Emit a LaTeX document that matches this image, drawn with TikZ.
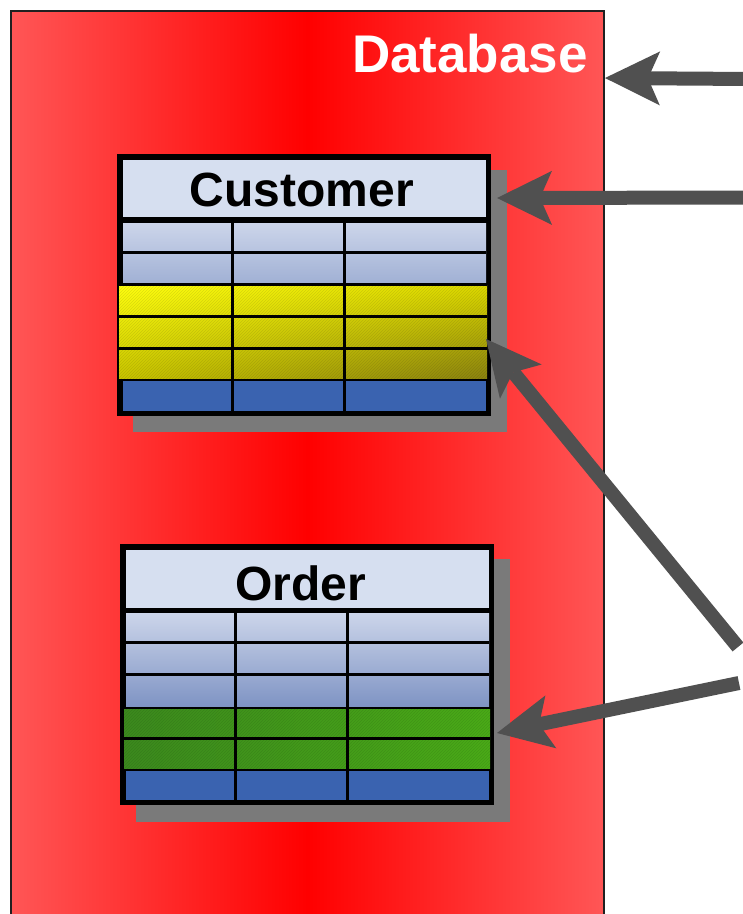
\documentclass[tikz,border=0pt]{standalone}
\usepackage{fontspec}
\setmainfont{Liberation Sans}
\usetikzlibrary{arrows.meta,patterns,shadings}
\definecolor{dbedge}{HTML}{FF5656}
\definecolor{dbline}{HTML}{202020}
\definecolor{shadowgray}{HTML}{7A7A7A}
\definecolor{headfill}{HTML}{D6DFF0}
\definecolor{rowtop}{HTML}{CCD5EA}
\definecolor{rowmid}{HTML}{A0B0D4}
\definecolor{rowbot}{HTML}{7F94C4}
\definecolor{rowblue}{HTML}{3A63B0}
\definecolor{arrowgray}{HTML}{505050}
\definecolor{yelUL}{HTML}{FFFF10}
\definecolor{yelUR}{HTML}{DCD800}
\definecolor{yelLL}{HTML}{C8C400}
\definecolor{yelLR}{HTML}{8C8410}
\definecolor{grnL}{HTML}{3C8A1E}
\definecolor{grnR}{HTML}{4AAB18}
\tikzset{
  ptr/.style={line width=14pt, draw=arrowgray,
    -{Stealth[length=55pt,width=54pt,inset=12pt,line width=0pt]}},
  gridline/.style={line width=3pt, black},
  title/.style={font=\bfseries\fontsize{48}{52}\selectfont, inner sep=0pt},
  hatch/.style={pattern=north east lines, pattern color=black, opacity=0.1}
}
\begin{document}
\begin{tikzpicture}[x=1pt,y=-1pt]
\useasboundingbox (0,0) rectangle (743,914);
% database
\node[draw=dbline, line width=2pt, left color=dbedge, right color=dbedge, middle color=red,
      minimum width=593pt, minimum height=920pt, inner sep=0pt, anchor=north west] (db) at (10,10) {};
\node[anchor=base east, text=white, font=\bfseries\fontsize{53}{60}\selectfont, inner sep=0pt] (dbtitle) at (588,72) {Database};
% ---------- Customer table ----------
\fill[shadowgray] (133,170) rectangle (507,432);
\fill[black] (117,154) rectangle (491,416);
\fill[headfill] (123,160) rectangle (486,217);
\shade[top color=rowtop, bottom color=rowmid] (123,223) rectangle (486,284);
\shade[upper left=yelUL, upper right=yelUR, lower left=yelLL, lower right=yelLR] (119,285) rectangle (487,378);
\fill[hatch] (119,285) rectangle (487,378);
\fill[rowblue] (123,381) rectangle (486,411);
\draw[gridline] (123,252.5) -- (486,252.5);
\draw[gridline] (119,284.5) -- (487,284.5);
\draw[gridline] (119,316.5) -- (487,316.5);
\draw[gridline] (119,348.5) -- (487,348.5);
\draw[gridline] (232,223) -- (232,411);
\draw[gridline] (344,223) -- (344,411);
\node[title] (custtitle) at (302,190) {Customer};
% ---------- Order table ----------
\fill[shadowgray] (136,559) rectangle (510,822);
\fill[black] (120,544) rectangle (494,805);
\fill[headfill] (126,550) rectangle (489,608);
\shade[top color=rowtop, bottom color=rowbot] (126,613) rectangle (489,706);
\shade[left color=grnL, right color=grnR] (124,709) rectangle (490,768);
\fill[hatch] (124,709) rectangle (490,768);
\fill[rowblue] (126,771) rectangle (489,800);
\draw[gridline] (126,642.5) -- (489,642.5);
\draw[gridline] (126,674.5) -- (489,674.5);
\draw[gridline] (124,738.5) -- (490,738.5);
\draw[gridline] (235,613) -- (235,800);
\draw[gridline] (347,613) -- (347,800);
\node[title] (ordtitle) at (301,583) {Order};
% ---------- arrows ----------
\coordinate (t1) at (750,79);
\coordinate (h1) at (605,78);
\coordinate (t2) at (750,197.5);
\coordinate (h2) at (497,198);
\coordinate (t3) at (738,647);
\coordinate (h3) at (486,339);
\coordinate (t4) at (739,683);
\coordinate (h4) at (497,733);
\draw[ptr] (t1) -- (h1);
\draw[ptr] (t2) -- (h2);
\draw[ptr] (t3) -- (h3);
\draw[ptr] (t4) -- (h4);
\end{tikzpicture}
\end{document}
